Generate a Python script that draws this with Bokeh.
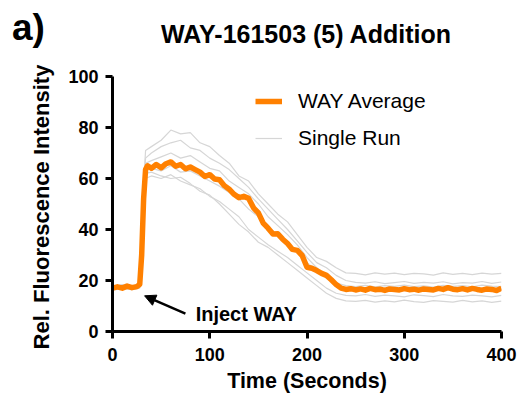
from bokeh.plotting import figure
from bokeh.models import (Label, Arrow, NormalHead, FixedTicker, Legend, LegendItem,
                          Range1d, Div)
from bokeh.layouts import column
from bokeh.embed import file_html
from bokeh.resources import INLINE

# ---------------- data ----------------
AVG_T = [0, 5, 10, 15, 20, 25, 28, 30, 32, 34, 36,
         40, 45, 50, 55, 60, 65, 70, 75, 80, 85, 90, 95, 100,
         105, 110, 115, 120, 125, 130, 135, 140, 145, 150, 155, 160,
         165, 170, 175, 180, 185, 190, 195, 200, 205, 210, 215, 220,
         225, 230, 235, 240, 245, 250, 255, 260, 265, 270, 275, 280,
         285, 290, 295, 300, 305, 310, 315, 320, 325, 330, 335, 340,
         345, 350, 355, 360, 365, 370, 375, 380, 385, 390, 395, 400]
WAY_AVERAGE = [17, 17.5, 17, 17.8, 17.2, 17.6, 18.5, 30, 52, 63.5, 65,
               64, 65.5, 64.2, 65.8, 66.5, 64.8, 65.5, 63.8, 64.5, 63.5, 62.5, 60.8, 61.5,
               59.8, 59.5, 57.2, 55.8, 53.8, 52.5, 53, 52.2, 48.5, 46.5, 42.5, 40.5,
               38.2, 38.3, 36.2, 34.5, 32.2, 31.8, 29.8, 25.2, 24.8, 23.9, 22.8, 22,
               20.3, 18.4, 17, 16.5, 16.8, 16.3, 16.7, 16.2, 16.9, 16.4, 16.6, 16.1,
               16.7, 16.5, 16.3, 16.8, 16.4, 16.6, 16.2, 16.7, 16.5, 16.3, 16.9, 16.5,
               17.2, 16.6, 16.4, 16.8, 16.3, 16.9, 16.5, 16.2, 16.7, 16.5, 16.1, 17]

RUN_T = [0, 10, 20, 28, 30, 32, 34,
         40, 50, 60, 70, 80, 90, 100, 110, 120, 130, 140, 150, 160, 170, 180,
         190, 200, 210, 220, 230, 240, 250, 260, 270, 280, 290, 300, 310, 320,
         330, 340, 350, 360, 370, 380, 390, 400]
RUN_1 = [17.8, 18.4, 17.6, 18.8, 33, 58, 71,
         72.5, 75, 79, 77.5, 78, 74, 72.5, 69, 66, 61, 59, 54, 50, 46, 43,
         38, 33, 29, 27.5, 25, 23, 22.8, 22.2, 23, 22.5, 22.9, 22.3, 22.8, 22.6,
         22.1, 23, 22.4, 22.8, 22.3, 22.9, 22.5, 22.8]
RUN_2 = [17.2, 17.9, 17.4, 18, 30, 55, 68,
         70, 72.5, 74, 75, 72, 71, 68, 66, 63.5, 60, 56.5, 52, 48, 44, 40,
         35.5, 31, 27, 25, 22, 20, 19.3, 19, 19.5, 18.8, 19.2, 19.6, 18.9, 19.3,
         19, 19.5, 18.7, 19.2, 19, 19.6, 18.9, 19.4]
RUN_3 = [16.8, 17.4, 16.6, 17.2, 28, 50, 63,
         64, 63, 65, 62.5, 63, 61, 59, 57, 54.5, 52, 48, 45, 41, 38, 35,
         31, 27, 24, 21, 18.5, 17, 16.5, 16.8, 16.2, 16.7, 16.3, 16.9, 16.4, 16.6,
         16.1, 16.8, 16.5, 16.2, 16.9, 16.4, 16.7, 16.3]
RUN_4 = [16.2, 16.8, 16.4, 17, 27, 48, 60,
         61, 60, 61.5, 59, 57.5, 56, 53, 51, 48, 45, 40, 37, 34, 31.5, 29,
         26, 23, 20, 17, 15, 14.2, 14, 14.5, 13.8, 14.3, 14, 13.6, 14.4, 14.1,
         13.7, 14.5, 14, 13.8, 14.3, 14, 13.6, 14.2]
RUN_5 = [16.5, 17, 16.7, 17.4, 29, 51, 62,
         62.5, 61, 60, 60.5, 58, 55, 53.5, 50, 46, 42, 39, 35, 33, 30, 27,
         24, 21, 18, 15, 13, 12, 11.8, 12.2, 11.5, 12, 11.6, 12.3, 11.7, 11.4,
         12.1, 11.8, 11.5, 12.2, 11.6, 12, 11.4, 11.9]
RUN_6 = [17.5, 17, 17.8, 17.6, 31, 56, 66,
         67, 68.5, 70, 68, 69, 66.5, 64, 63, 59, 56.5, 54, 50, 45, 41.5, 38,
         34, 29, 25, 22, 19, 18, 17.6, 18.1, 17.5, 18, 17.7, 18.2, 17.6, 17.9,
         17.4, 18.1, 17.7, 18, 17.5, 18.2, 17.8, 17.6]
SINGLE_RUNS = [RUN_1, RUN_2, RUN_3, RUN_4, RUN_5, RUN_6]

X_TICKS = [0, 100, 200, 300, 400]
Y_TICKS = [0, 20, 40, 60, 80, 100]

TITLE = "WAY-161503 (5) Addition"
PANEL = "a)"
X_LABEL = "Time (Seconds)"
Y_LABEL = "Rel.  Fluorescence Intensity"
INJECT_TEXT = "Inject WAY"
INJECT_X, INJECT_Y = 33, 14      # arrow head (data)
INJECT_TAIL_X, INJECT_TAIL_Y = 75, 7

FONT = "Liberation Sans"
ORANGE = "#FF8000"
GREY = "#D6D6D6"

HEADER_H = 56

# ---------------- header (title + panel letter), real HTML text ----------------
header_html = (
    f'<div style="position:relative;width:521px;height:{HEADER_H}px;overflow:hidden;'
    f'font-family:\'{FONT}\';font-weight:bold;color:black;">'
    f'<div style="position:absolute;left:12px;top:9px;font-size:37px;line-height:37px;'
    f'white-space:nowrap;">{PANEL}</div>'
    f'<div style="position:absolute;left:106px;width:400px;top:22px;font-size:25px;'
    f'line-height:25px;text-align:center;white-space:nowrap;">{TITLE}</div>'
    f'</div>'
)
hdr = Div(text=header_html, width=521, height=HEADER_H, margin=0)

# ---------------- main figure ----------------
p = figure(width=521, height=398 - HEADER_H, output_backend="svg",
           toolbar_location=None, title=None,
           x_range=Range1d(0, 400), y_range=Range1d(0, 100),
           min_border_left=112, min_border_right=20,
           min_border_top=76 - HEADER_H, min_border_bottom=67)
p.background_fill_color = None
p.border_fill_color = "white"
p.outline_line_color = None
p.grid.visible = False

grey_renderers = []
for run in SINGLE_RUNS:
    r = p.line(RUN_T, run, line_color=GREY, line_width=1.2)
    grey_renderers.append(r)
avg_r = p.line(AVG_T, WAY_AVERAGE, line_color=ORANGE, line_width=5.5,
               line_join="round")

for ax in (p.xaxis[0], p.yaxis[0]):
    ax.axis_line_width = 3
    ax.axis_line_color = "black"
    ax.major_tick_line_width = 3
    ax.major_tick_line_color = "black"
    ax.major_tick_out = 7
    ax.major_tick_in = 0
    ax.minor_tick_line_color = None
    ax.major_label_text_font = FONT
    ax.major_label_text_font_style = "bold"
    ax.major_label_text_font_size = "18px"
    ax.major_label_text_color = "black"
    ax.axis_label_text_font = FONT
    ax.axis_label_text_font_style = "bold"
    ax.axis_label_text_color = "black"

p.xaxis.axis_label_text_font_size = "21.5px"
p.yaxis.axis_label_text_font_size = "22px"
p.xaxis.ticker = FixedTicker(ticks=X_TICKS)
p.yaxis.ticker = FixedTicker(ticks=Y_TICKS)
p.xaxis.axis_label = X_LABEL
p.yaxis.axis_label = Y_LABEL
p.xaxis.major_label_standoff = 9
p.yaxis.major_label_standoff = 7
p.xaxis.axis_label_standoff = 5
p.yaxis.axis_label_standoff = 11

legend = Legend(items=[LegendItem(label="WAY Average", renderers=[avg_r]),
                       LegendItem(label="Single Run", renderers=[grey_renderers[0]])],
                location=(143, 181), orientation="vertical",
                glyph_width=27, glyph_height=20, label_height=20,
                label_standoff=16, spacing=13, padding=0, margin=0,
                border_line_color=None, background_fill_alpha=0,
                label_text_font=FONT, label_text_font_size="21px",
                label_text_color="black", label_text_baseline="middle")
p.add_layout(legend)

p.add_layout(Arrow(end=NormalHead(size=11, fill_color="black", line_color="black",
                                  line_width=1),
                   x_start=INJECT_TAIL_X, y_start=INJECT_TAIL_Y,
                   x_end=INJECT_X, y_end=INJECT_Y,
                   line_color="black", line_width=2.5))
p.add_layout(Label(x=85.5, y=7, text=INJECT_TEXT, text_font=FONT,
                   text_font_style="bold", text_font_size="20px",
                   text_baseline="middle", text_align="left", text_color="black"))

layout = column(hdr, p, spacing=0)
open("out.html", "w").write(file_html(layout, INLINE))
